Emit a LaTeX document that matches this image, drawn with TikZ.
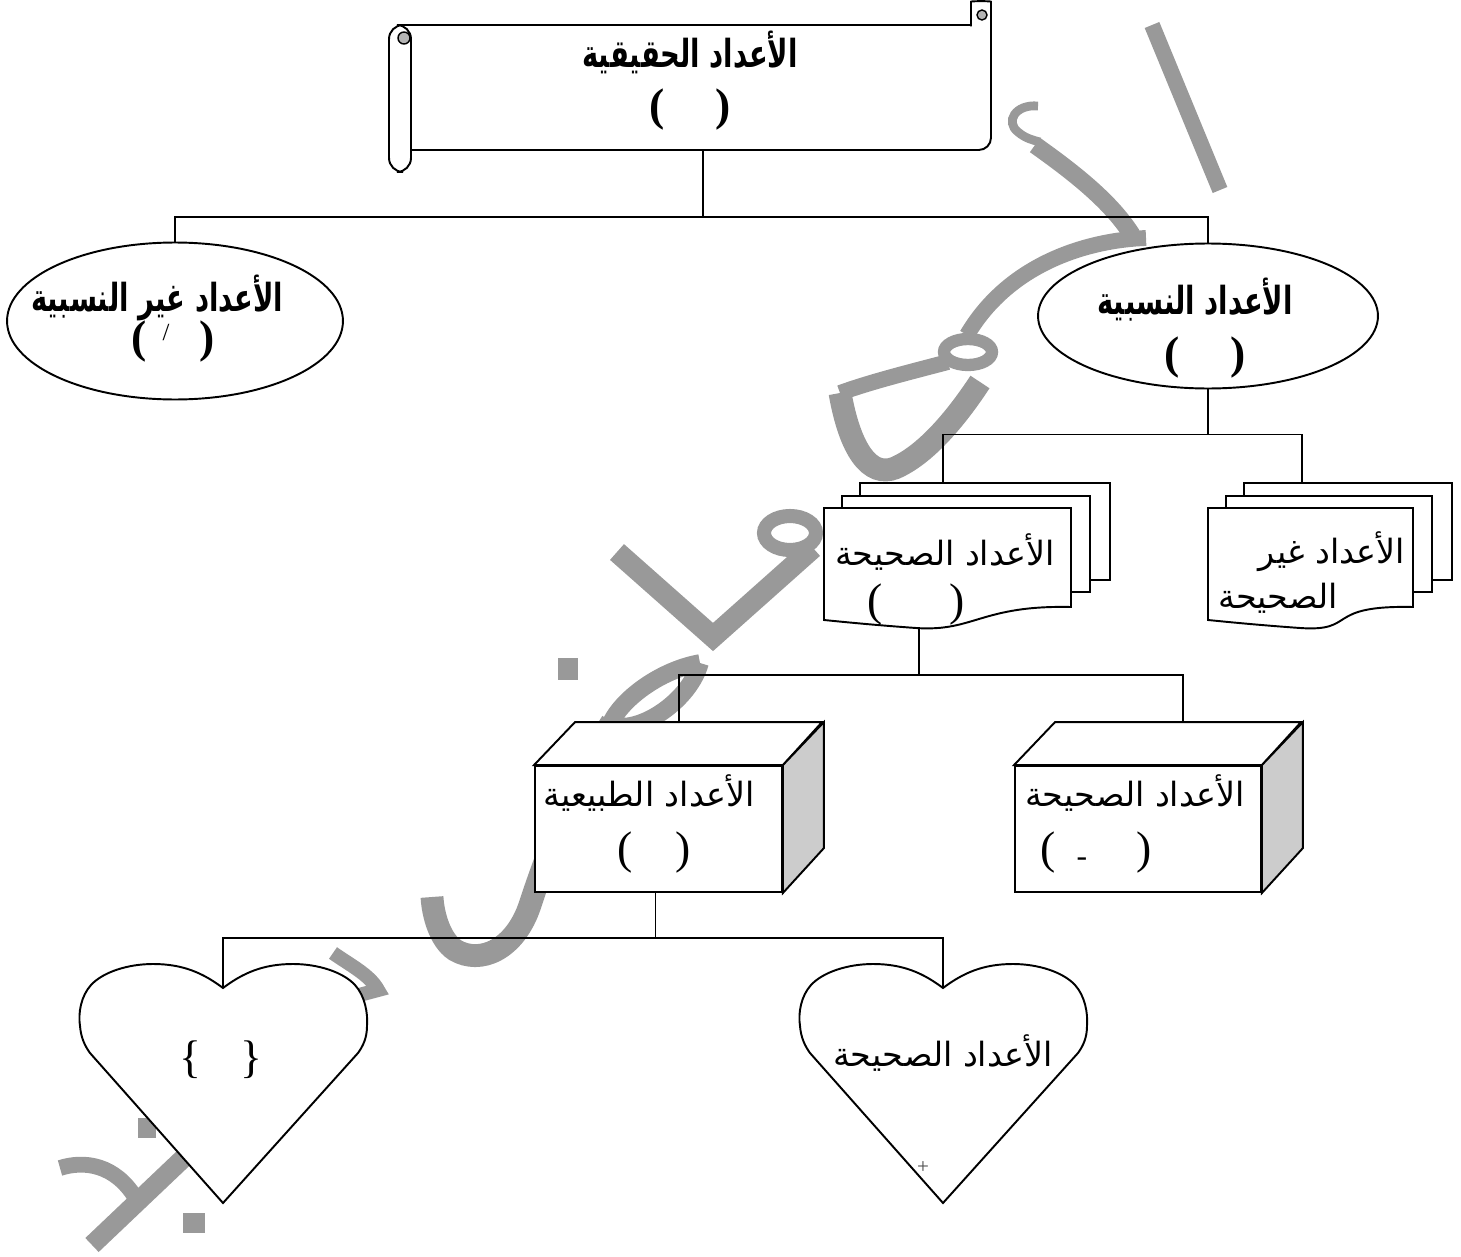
\documentclass[tikz,border=0pt]{standalone}
\usepackage{fontspec}
\setmainfont{Liberation Serif}
\newfontfamily\arabicfont[Script=Arabic]{DejaVu Sans}
\newfontfamily\arabicfontb[Script=Arabic,FakeStretch=0.71]{DejaVu Sans Bold}
\TeXXeTstate=1
\usetikzlibrary{shapes.geometric,calc}

\definecolor{wmgray}{HTML}{999999}
\definecolor{sidegray}{HTML}{CCCCCC}
\definecolor{curlgray}{HTML}{B4B4B4}

\newcommand{\ar}[1]{{\arabicfont\beginR #1\endR}}
\newcommand{\arb}[1]{{\arabicfontb\beginR #1\endR}}

% three stacked pages: left, top, right, bottom of the front page
\newcommand{\docstack}[4]{%
  \filldraw[shapeline] (#1+36,#2-25) rectangle (#3+39,#4-27);
  \filldraw[shapeline] (#1+18,#2-12) rectangle (#3+19,#4-15);
  \filldraw[shapeline] (#1,#2) -- (#3,#2) -- (#3,#4)
    .. controls (#3-90,#4-2) and (#1+150,#4+25) .. (#1+92,#4+21)
    .. controls (#1+50,#4+18) and (#1+20,#4+15) .. (#1,#4+13) -- cycle;
}
% heart with its notch at (#1,#2)
\newcommand{\heartat}[2]{%
  \begin{scope}[shift={(#1,#2)}]
    \filldraw[shapeline] (0,0) .. controls (-20,-15) and (-40,-24) .. (-70,-24)
      .. controls (-95,-24) and (-120,-16) .. (-132,-3)
      .. controls (-142,8) and (-145,25) .. (-143,38)
      .. controls (-142,50) and (-138,58) .. (-133,65)
      -- (0,215) -- (135,65)
      .. controls (140,58) and (144,50) .. (144,38)
      .. controls (145,25) and (142,8) .. (132,-3)
      .. controls (120,-16) and (95,-24) .. (70,-24)
      .. controls (40,-24) and (20,-15) .. (0,0) -- cycle;
  \end{scope}
}

\tikzset{
  shapeline/.style={draw=black, line width=1.1pt, fill=white},
  link/.style={draw=black, line width=0.8pt},
  wm/.style={draw=wmgray, line width=10pt, line cap=butt},
  artxt/.style={inner sep=0pt, font=\fontsize{19}{21}\selectfont},
  arbold/.style={inner sep=0pt, font=\fontsize{22}{24}\selectfont},
  brtxt/.style={inner sep=0pt, font=\fontsize{26}{28}\selectfont},
  face/.style={shapeline, rectangle, inner sep=0pt},
  oval/.style={shapeline, ellipse, inner sep=0pt},
}

\begin{document}
\begin{tikzpicture}[x=0.02cm, y=-0.02cm]
  \useasboundingbox (0,0) rectangle (1461,1257);

  % watermark
  \draw[wm, line width=9pt] (1152,25) -- (1220,190);
  \draw[wm, line width=5pt] (1038,106) .. controls (1015,104) and (1005,122) .. (1018,132)
    .. controls (1025,138) and (1032,140) .. (1040,142);
  \draw[wm] (1035,145) .. controls (1070,170) and (1110,200) .. (1132,235);
  \draw[wm, line width=9pt] (1146,238) .. controls (1090,240) and (1010,262) .. (967,335);
  \draw[wm, line width=7pt] (968,352) ellipse [x radius=24, y radius=13];
  \draw[wm, line width=9pt] (948,362) .. controls (910,372) and (870,382) .. (840,393);
  \draw[wm, line width=13pt] (840,393) .. controls (850,450) and (870,478) .. (895,468)
    .. controls (925,455) and (955,420) .. (980,382);
  \draw[wm, line width=8pt] (790,533) ellipse [x radius=26, y radius=17];
  \draw[wm, line width=12pt] (617,552) -- (713,637) -- (813,548);
  \draw[wm] (700,663) .. controls (660,670) and (620,700) .. (610,725)
    .. controls (640,735) and (690,700) .. (700,663);
  \fill[wmgray] (558,658) rectangle (578,680);
  \draw[wm, line width=13pt] (612,722) .. controls (575,780) and (548,850) .. (530,905)
    .. controls (515,950) and (480,965) .. (455,950) .. controls (440,940) and (433,915) .. (432,897);
  \draw[wm, line width=8pt] (333,953) .. controls (350,965) and (370,975) .. (378,990) -- (348,998);
  \draw[wm, line width=11pt] (192,1150) -- (92,1245);
  \draw[wm, line width=9pt] (60,1168) .. controls (85,1160) and (115,1165) .. (135,1197);
  \fill[wmgray] (183,1213) rectangle (205,1233);
  \fill[wmgray] (138,1118) rectangle (156,1138);

  % scroll
  \coordinate (real) at (703,150);
  \draw[shapeline] (400,25) -- (971,25);
  \draw[shapeline, fill=none, rounded corners=7pt] (971,25) -- (971,14)
    .. controls (971,1) and (991,1) .. (991,14) -- (991,150) -- (411,150);
  \filldraw[draw=black, line width=0.8pt, fill=curlgray] (982,15) circle (5);
  \draw[shapeline, rounded corners=8pt] (389,25) rectangle (411,172);
  \filldraw[draw=black, line width=0.8pt, fill=curlgray] (404,38) circle (6);
  \node[arbold] (realname) at (690,52) {\arb{الأعداد الحقيقية}};
  \node[brtxt] (realsym) at (690,110) {\bfseries(\hspace{29pt})};

  % ellipses
  \node[oval, minimum width=6.72cm, minimum height=3.14cm] (irr) at (175,321) {};
  \node[oval, minimum width=6.8cm, minimum height=2.9cm] (rat) at (1208,316) {};
  \node[arbold] (irrname) at (157,298) {\arb{الأعداد غير النسبية}};
  \node[brtxt] (irrsym) at (173,342) {\bfseries(\hspace{30pt})};
  \node[inner sep=0pt, font=\fontsize{14}{14}\selectfont] (irrslash) at (166,333) {/};
  \node[arbold] (ratname) at (1195,300) {\arb{الأعداد النسبية}};
  \node[brtxt] (ratsym) at (1205,358) {\bfseries(\hspace{29pt})};

  % page stacks
  \docstack{824}{508}{1071}{607}
  \docstack{1208}{508}{1413}{607}
  \coordinate (intstop) at (943,483);
  \coordinate (ints) at (919,628);
  \coordinate (nonint) at (1302,483);
  \node[artxt] (intsname) at (945,552) {\ar{الأعداد الصحيحة}};
  \node[brtxt] (intssym) at (916,605) {(\hspace{38pt})};
  \node[artxt] (nonintname) at (1332,552) {\ar{الأعداد غير}};
  \node[artxt] (nonintname2) at (1278,598) {\ar{الصحيحة}};

  % boxes
  \node[face, minimum width=4.94cm, minimum height=2.52cm] (nat) at (658.5,829) {};
  \filldraw[shapeline] (nat.north west) -- ++(41,-43) -- ++(247,0) -- (nat.north east) -- cycle;
  \filldraw[shapeline, fill=sidegray] (nat.north east) -- ++(41,-43) -- ++(0,126) -- (nat.south east) -- cycle;
  \node[face, minimum width=4.92cm, minimum height=2.52cm] (whole) at (1138,829) {};
  \filldraw[shapeline] (whole.north west) -- ++(41,-43) -- ++(246,0) -- (whole.north east) -- cycle;
  \filldraw[shapeline, fill=sidegray] (whole.north east) -- ++(41,-43) -- ++(0,126) -- (whole.south east) -- cycle;
  \coordinate (nattop) at (679,723);
  \coordinate (wholetop) at (1183,723);
  \node[artxt] (natname) at (649,793) {\ar{الأعداد الطبيعية}};
  \node[brtxt] (natsym) at (654,853) {(\hspace{24pt})};
  \node[artxt] (wholename) at (1135,793) {\ar{الأعداد الصحيحة}};
  \node[brtxt] (wholesym) at (1096,853) {(\hspace{46pt})};
  \node[inner sep=0pt, font=\fontsize{18}{18}\selectfont] (wholedash) at (1082,862) {-};

  % hearts
  \heartat{223}{988}
  \heartat{943}{988}
  \coordinate (setheart) at (223,988);
  \coordinate (intheart) at (943,988);
  \node[brtxt] (setsym) at (221,1060) {\{\hspace{22pt}\}};
  \node[artxt] (inthname) at (943,1053) {\ar{الأعداد الصحيحة}};
  \node[inner sep=0pt, text=black!70, font=\fontsize{12}{12}\selectfont] (plus) at (923,1168) {+};

  % connectors
  \coordinate (bus1) at ($(real)+(0,67)$);
  \draw[link] (real) -- (bus1);
  \draw[link] (irr.north) |- (bus1) -| (rat.north);
  \coordinate (bus2) at ($(rat.south)+(0,45)$);
  \draw[link] (rat.south) -- (bus2);
  \draw[link] (intstop) |- (bus2) -| (nonint);
  \coordinate (bus3) at ($(ints)+(0,47)$);
  \draw[link] (ints) -- (bus3);
  \draw[link] (nattop) |- (bus3) -| (wholetop);
  \coordinate (bus4) at ($(nat.south)+(-3,45)$);
  \draw[link] (nat.south -| bus4) -- (bus4);
  \draw[link] (setheart) |- (bus4) -| (intheart);
\end{tikzpicture}
\end{document}
